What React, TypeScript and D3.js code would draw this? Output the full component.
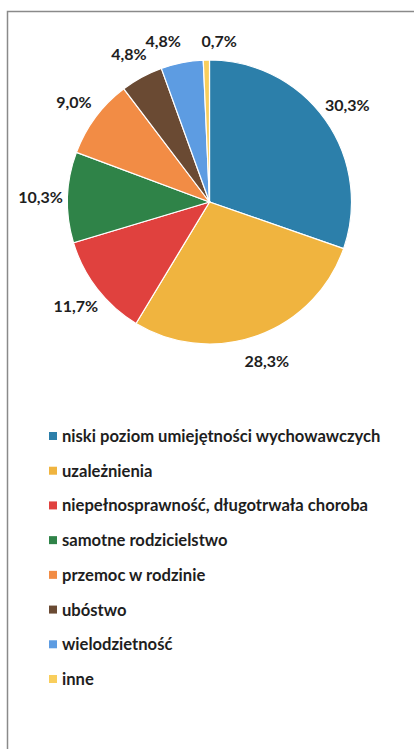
import React from "react";
import * as d3 from "d3";

const categories = [
  "niski poziom umiejętności wychowawczych",
  "uzależnienia",
  "niepełnosprawność, długotrwała choroba",
  "samotne rodzicielstwo",
  "przemoc w rodzinie",
  "ubóstwo",
  "wielodzietność",
  "inne",
];
const values = [30.3, 28.3, 11.7, 10.3, 9.0, 4.8, 4.8, 0.7];
const labels = ["30,3%", "28,3%", "11,7%", "10,3%", "9,0%", "4,8%", "4,8%", "0,7%"];
const colors = ["#2C7FAA", "#F0B43F", "#E0413E", "#2F8348", "#F28C45", "#6A4A33", "#5D9CE2", "#F9CE5C"];

const W = 414;
const H = 749;
const cx = 209.5;
const cy = 202;
const R = 142;
const labelR = 169;
const labelW = 42;
const FONT = "Lato, 'Open Sans', sans-serif";

export default function App() {
  const pie = d3.pie<number>().sort(null).value((d) => d);
  const arcs = pie(values);
  const arcGen = d3.arc<d3.PieArcDatum<number>>().innerRadius(0).outerRadius(R);

  const pos = arcs.map((a) => {
    const m = (a.startAngle + a.endAngle) / 2;
    return { x: cx + Math.sin(m) * labelR, y: cy - Math.cos(m) * labelR };
  });
  // symmetric collision resolution between neighbouring labels
  for (let i = 1; i < pos.length; i++) {
    const p = pos[i - 1];
    const q = pos[i];
    if (Math.abs(p.y - q.y) < 16 && Math.abs(p.x - q.x) < labelW + 14) {
      const need = labelW + 14 - Math.abs(p.x - q.x);
      const dir = q.x >= p.x ? 1 : -1;
      p.x -= (dir * need) / 2;
      q.x += (dir * need) / 2;
      const my = Math.max(p.y, q.y) + 4;
      p.y = my;
      q.y = my;
    }
  }

  const legendY = d3.scaleLinear().domain([0, categories.length - 1]).range([436, 679]);

  return (
    <svg
      width={W}
      height={H}
      style={{ position: "absolute", left: 0, top: 0, background: "#fff" }}
    >
      <rect x={0} y={0} width={W} height={H} fill="#fff" />
      <path d={`M7.5,${H} L7.5,11.5 L${W},11.5`} fill="none" stroke="#8a8a8a" strokeWidth={1.5} />
      <g>
        {arcs.map((a, i) => (
          <path
            key={i}
            d={arcGen(a) || ""}
            transform={`translate(${cx},${cy})`}
            fill={colors[i]}
            stroke="#fff"
            strokeWidth={1.2}
          />
        ))}
      </g>
      <g fontFamily={FONT} fontWeight="bold" fontSize={16} fill="#1e1e1e">
        {pos.map((p, i) => (
          <text key={i} x={p.x} y={p.y} textAnchor="middle" dominantBaseline="central">
            {labels[i]}
          </text>
        ))}
      </g>
      <g fontFamily={FONT} fontWeight="bold" fontSize={16.6} fill="#1e1e1e">
        {categories.map((c, i) => (
          <g key={i} transform={`translate(0,${legendY(i)})`}>
            <rect x={49} y={-4} width={8} height={8} fill={colors[i]} />
            <text x={62} y={0} dominantBaseline="central">
              {c}
            </text>
          </g>
        ))}
      </g>
    </svg>
  );
}
